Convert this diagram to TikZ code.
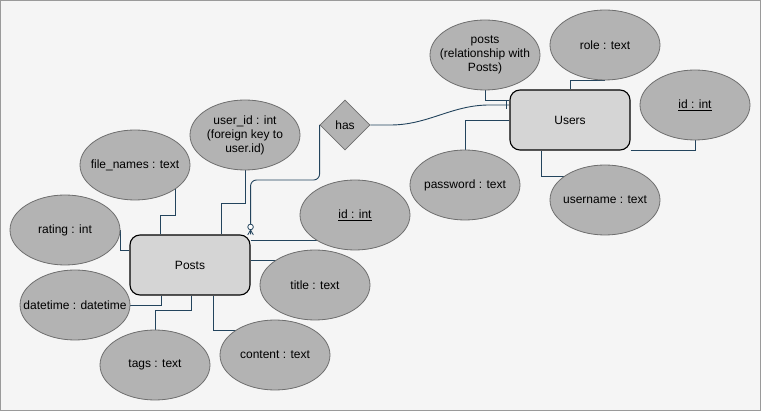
\documentclass[tikz,border=0pt]{standalone}
\usepackage{fontspec}
\setmainfont{Liberation Sans}
\usetikzlibrary{shapes.geometric}
\pgfdeclarelayer{bg}
\pgfdeclarelayer{edges}
\pgfsetlayers{bg,edges,main}
\definecolor{pagebg}{HTML}{F5F5F5}
\definecolor{frame}{HTML}{9A9A9A}
\definecolor{attrfill}{HTML}{B3B3B3}
\definecolor{attrline}{HTML}{6E6E6E}
\definecolor{entfill}{HTML}{D5D5D5}
\definecolor{wire}{HTML}{23445D}
\begin{document}
\begin{tikzpicture}[x=1pt,y=-1pt,
  every node/.style={font=\fontsize{12pt}{14pt}\selectfont},
  entity/.style={draw=black, line width=1.1pt, fill=entfill, rounded corners=10pt,
    minimum width=120pt, minimum height=60pt, inner sep=0pt},
  attr/.style={ellipse, draw=attrline, line width=0.8pt, fill=attrfill,
    minimum width=110pt, minimum height=70pt, inner sep=0pt},
  relship/.style={diamond, draw=attrline, line width=0.8pt, fill=attrfill,
    minimum width=50pt, minimum height=50pt, inner sep=0pt},
  wiring/.style={draw=wire, line width=0.9pt}]

% page
\useasboundingbox (0,0) rectangle (761,411);
\begin{pgfonlayer}{bg}
  \fill[pagebg] (0,0) rectangle (761,411);
  \draw[frame, line width=1pt] (0.5,0.5) rectangle (760.5,410.5);
\end{pgfonlayer}

% entities and relationship
\node[entity] (posts) at (190,265) {Posts};
\node[entity] (users) at (570,120) {Users};
\node[relship] (has) at (345,125) {has};

% attributes of Users
\node[attr, label={[align=center]center:posts\\(relationship with\\Posts)}] (pr) at (485,55) {};
\node[attr, label={center:role : text}] (role) at (605,45) {};
\node[attr, label={center:\underline{id : int}}] (uid) at (695,105) {};
\node[attr, label={center:password : text}] (pw) at (465,185) {};
\node[attr, label={center:username : text}] (un) at (605,200) {};

% attributes of Posts
\node[attr, label={[align=center]center:user\_id : int\\(foreign key to\\user.id)}] (fk) at (245,135) {};
\node[attr, label={center:file\_names : text}] (fn) at (135,165) {};
\node[attr, label={center:rating : int}] (rt) at (65,230) {};
\node[attr, label={center:\underline{id : int}}] (pid) at (355,215) {};
\node[attr, label={center:title : text}] (tt) at (315,285) {};
\node[attr, label={center:datetime : datetime}] (dt) at (75,305) {};
\node[attr, label={center:tags : text}] (tg) at (155,365) {};
\node[attr, label={center:content : text}] (ct) at (275,355) {};

\coordinate (cf) at (posts.north east);
\coordinate (hu) at (users.west |- 0,105);

\begin{pgfonlayer}{edges}
  % Posts attributes
  \draw[wiring] (rt.east) |- (posts.west |- 0,250);
  \draw[wiring] (fn.center -| 175,0) -- (175,215) -| (posts.north -| 160,0);
  \draw[wiring] (fk.center) -- (fk.center |- 0,203) -| (posts.north -| 221,0);
  \draw[wiring] (posts.east |- 0,240) -- (pid.center |- 0,240);
  \draw[wiring] (posts.east |- 0,260) -- (tt.center |- 0,260);
  \draw[wiring] (posts.south -| 213,0) |- (ct.center |- 0,330);
  \draw[wiring] (posts.south -| 191,0) -- (191,310) -| (tg.center);
  \draw[wiring] (posts.south -| 161,0) |- (dt.center);
  % Users attributes
  \draw[wiring] (pr.center) |- (users.west |- 0,100);
  \draw[wiring] (pw.center) |- (users.west |- 0,120);
  \draw[wiring] (users.north -| 570,0) |- (role.center |- 0,80);
  \draw[wiring] (users.south east) -| (uid.center);
  \draw[wiring] (users.south -| 541,0) |- (un.center |- 0,176);
  % relationship
  \draw[wiring, rounded corners=6pt] (has.west) |- (cf |- 0,180) -- (cf);
  \draw[wiring] (has.east) -- ++(20,0) .. controls +(38,0) and +(-38,0) .. ([xshift=-20pt]hu) -- (hu);
\end{pgfonlayer}

% cardinality marks
\draw[wiring] ([xshift=-3.5pt]hu) ++(0,-4.5) -- ++(0,9);
\draw[wiring, line width=0.8pt] (cf) ++(0,-4.5) -- ++(-2.8,5) (cf) ++(0,-4.5) -- ++(2.8,5);
\draw[wiring, line width=0.8pt, fill=white] (cf) ++(0,-7.5) circle (2.8pt);
\end{tikzpicture}
\end{document}
